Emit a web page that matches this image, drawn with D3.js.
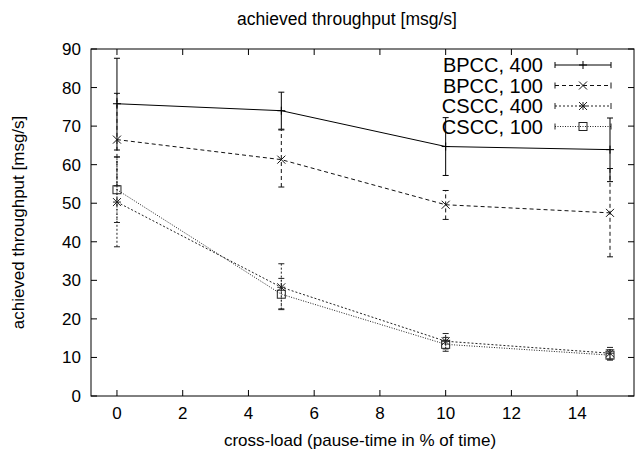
<!DOCTYPE html>
<html><head><meta charset="utf-8">
<script src="https://cdn.jsdelivr.net/npm/d3@7"></script>
<style>body{margin:0;background:#fff}svg{display:block}text{font-family:"Liberation Sans",Arial,sans-serif;fill:#000}</style>
</head><body><svg id="c" width="638" height="459"></svg>
<script>
const xValues = [0, 5, 10, 15];
const seriesNames = ["BPCC, 400", "BPCC, 100", "CSCC, 400", "CSCC, 100"];
const bpcc400 = [75.8, 74.0, 64.7, 63.9];
const bpcc400Lo = [63.8, 69.2, 57.2, 55.6];
const bpcc400Hi = [87.6, 78.8, 72.2, 72.1];
const bpcc100 = [66.5, 61.3, 49.6, 47.5];
const bpcc100Lo = [54.5, 54.2, 45.8, 36.1];
const bpcc100Hi = [78.5, 69.0, 53.3, 59.0];
const cscc400 = [50.3, 28.2, 14.2, 11.1];
const cscc400Lo = [38.7, 22.4, 12.2, 9.6];
const cscc400Hi = [62.0, 34.3, 16.2, 12.6];
const cscc100 = [53.5, 26.4, 13.4, 10.6];
const cscc100Lo = [45.0, 22.6, 11.6, 9.3];
const cscc100Hi = [62.0, 30.5, 15.2, 12.0];
const xTicks = [0, 2, 4, 6, 8, 10, 12, 14];
const yTicks = [0, 10, 20, 30, 40, 50, 60, 70, 80, 90];
const title = "achieved throughput [msg/s]";
const xLabel = "cross-load (pause-time in % of time)";
const yLabel = "achieved throughput [msg/s]";

const series = [
  {name: seriesNames[0], v: bpcc400, lo: bpcc400Lo, hi: bpcc400Hi, dash: null, color: "#000", marker: "plus"},
  {name: seriesNames[1], v: bpcc100, lo: bpcc100Lo, hi: bpcc100Hi, dash: "4,3", color: "#111", marker: "cross"},
  {name: seriesNames[2], v: cscc400, lo: cscc400Lo, hi: cscc400Hi, dash: "2,2", color: "#222", marker: "star"},
  {name: seriesNames[3], v: cscc100, lo: cscc100Lo, hi: cscc100Hi, dash: "1,1.5", color: "#222", marker: "square"}
];

const L = 91, R = 634, T = 49, B = 396;
const x = d3.scaleLinear().domain([-0.79, 15.73]).range([L, R]);
const y = d3.scaleLinear().domain([0, 90]).range([B, T]);
const svg = d3.select("#c");

// frame
svg.append("rect").attr("x", L).attr("y", T).attr("width", R - L).attr("height", B - T)
  .attr("fill", "none").attr("stroke", "#000").attr("stroke-width", 1);

const tl = 6;
const ax = svg.append("g").attr("stroke", "#000").attr("stroke-width", 1);
xTicks.forEach(t => {
  ax.append("line").attr("x1", x(t)).attr("x2", x(t)).attr("y1", B).attr("y2", B - tl);
  ax.append("line").attr("x1", x(t)).attr("x2", x(t)).attr("y1", T).attr("y2", T + tl);
});
yTicks.forEach(t => {
  ax.append("line").attr("x1", L).attr("x2", L + tl).attr("y1", y(t)).attr("y2", y(t));
  ax.append("line").attr("x1", R).attr("x2", R - tl).attr("y1", y(t)).attr("y2", y(t));
});
svg.append("g").selectAll("text").data(xTicks).join("text")
  .attr("x", d => x(d)).attr("y", B + 23).attr("text-anchor", "middle")
  .attr("font-size", 17).text(d => d);
svg.append("g").selectAll("text").data(yTicks).join("text")
  .attr("x", L - 10).attr("y", d => y(d) + 6).attr("text-anchor", "end")
  .attr("font-size", 17).text(d => d);

svg.append("text").attr("x", 347).attr("y", 25).attr("text-anchor", "middle").attr("font-size", 17.5).text(title);
svg.append("text").attr("x", 360).attr("y", 446).attr("text-anchor", "middle").attr("font-size", 17).text(xLabel);
svg.append("text").attr("transform", "translate(24," + ((T + B) / 2) + ") rotate(-90)")
  .attr("text-anchor", "middle").attr("font-size", 17).text(yLabel);

function marker(g, type, cx, cy, color) {
  const s = 4;
  const m = g.append("g").attr("stroke", color).attr("stroke-width", 1).attr("fill", "none");
  if (type === "plus" || type === "star") {
    m.append("line").attr("x1", cx - s).attr("x2", cx + s).attr("y1", cy).attr("y2", cy);
    m.append("line").attr("x1", cx).attr("x2", cx).attr("y1", cy - s).attr("y2", cy + s);
  }
  if (type === "cross" || type === "star") {
    m.append("line").attr("x1", cx - s).attr("x2", cx + s).attr("y1", cy - s).attr("y2", cy + s);
    m.append("line").attr("x1", cx - s).attr("x2", cx + s).attr("y1", cy + s).attr("y2", cy - s);
  }
  if (type === "square") {
    m.append("rect").attr("x", cx - s).attr("y", cy - s).attr("width", 2 * s).attr("height", 2 * s);
  }
}

const line = d3.line().x((d, i) => x(xValues[i])).y(d => y(d));
const cap = 3;
series.forEach(s => {
  const g = svg.append("g");
  g.append("path").attr("d", line(s.v)).attr("fill", "none").attr("stroke", s.color)
    .attr("stroke-width", 1).attr("stroke-dasharray", s.dash);
  xValues.forEach((xv, i) => {
    const px = x(xv);
    g.append("line").attr("x1", px).attr("x2", px).attr("y1", y(s.lo[i])).attr("y2", y(s.hi[i]))
      .attr("stroke", s.color).attr("stroke-dasharray", s.dash);
    [s.lo[i], s.hi[i]].forEach(v => g.append("line").attr("x1", px - cap).attr("x2", px + cap)
      .attr("y1", y(v)).attr("y2", y(v)).attr("stroke", s.color));
    marker(g, s.marker, px, y(s.v[i]), s.color);
  });
});

// legend
const legY0 = 65, legDy = 20.5;
series.forEach((s, i) => {
  const yy = legY0 + i * legDy;
  svg.append("text").attr("x", 543).attr("y", yy + 7).attr("text-anchor", "end").attr("font-size", 20).text(s.name);
  const g = svg.append("g");
  g.append("line").attr("x1", 555).attr("x2", 611).attr("y1", yy).attr("y2", yy)
    .attr("stroke", s.color).attr("stroke-dasharray", s.dash);
  [555, 611].forEach(px => g.append("line").attr("x1", px).attr("x2", px).attr("y1", yy - 3).attr("y2", yy + 3).attr("stroke", s.color));
  marker(g, s.marker, 583, yy, s.color);
});
</script></body></html>
